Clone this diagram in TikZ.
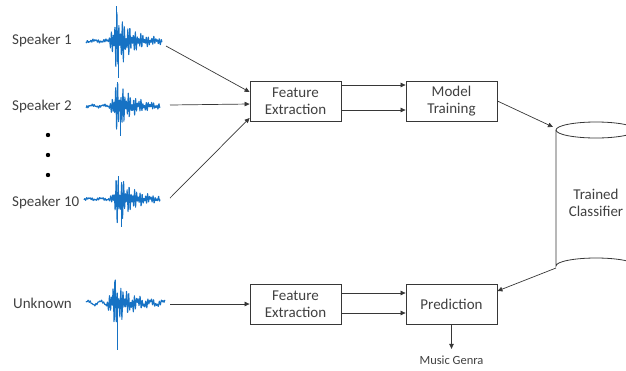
\documentclass[tikz,border=0pt]{standalone}
\usepackage{fontspec}
\setmainfont{Carlito}
\usetikzlibrary{arrows.meta}
\definecolor{wavec}{RGB}{22,114,196}
\definecolor{txt}{RGB}{64,64,64}
\definecolor{ln}{RGB}{55,55,55}
\newcommand\drawwave[7]{% x0, y0, length, amplitude, peak pos, seed, wiggle
  \draw[wavec, line width=1pt, line join=round]
    plot[domain=0:240, samples=241, variable=\ii]
    ({#1+#3*(\ii/240)},{#2 + #7*sin(\ii*9.5+#6) + #4*(0.05+env(\ii/240,#5))*(0.6*sin(\ii*61.7+#6)+0.4*sin(\ii*43.1+2*#6))});
}
\begin{document}
\begin{tikzpicture}[x=1pt,y=-1pt,
  font=\fontsize{15}{16.5}\selectfont, text=txt,
  box/.style={draw=ln, line width=0.8pt, minimum width=91pt, minimum height=40pt, align=center, inner sep=0pt},
  arr/.style={draw=ln, line width=0.7pt, -{Triangle[length=5pt,width=4.5pt]}},
  lbl/.style={anchor=base west, inner sep=0pt},
  spike/.style={wavec, line width=1pt},
  declare function={env(\tv,\pv)=(\tv<\pv)*exp(max(-9,-((\tv-\pv)/0.06)^2)) + (\tv>=\pv)*exp(max(-9,-(\tv-\pv)/0.2));}]
\useasboundingbox (0,0) rectangle (626,370);
\clip (0,0) rectangle (626,370);

% labels
\node[lbl] (s1) at (12,44) {Speaker 1};
\node[lbl] (s2) at (12,110) {Speaker 2};
\node[lbl] (s10) at (12,206) {Speaker 10};
\node[lbl] (unk) at (13,308) {Unknown};
\foreach \yy in {135,155,175} \fill[black] (48,\yy) circle (2.2);

% waveforms
\drawwave{86}{41}{76}{30}{0.40}{17}{0.8}
\draw[spike] (116,41) -- (116,6);
\draw[spike] (118,41) -- (118,78);
\drawwave{86}{106}{74}{25}{0.42}{73}{0.9}
\draw[spike] (117,106) -- (117,82);
\draw[spike] (120,106) -- (120,136);
\drawwave{84}{199}{76}{25}{0.45}{121}{0.8}
\draw[spike] (121,199) -- (121,227);
\draw[spike] (118,199) -- (118,176);
\drawwave{86}{303}{79}{24}{0.36}{205}{2.0}
\draw[spike] (117,303) -- (117,350);
\draw[spike] (114,303) -- (114,282);

% wave end coordinates
\coordinate (w1) at (166,46);
\coordinate (w2) at (170,105);
\coordinate (w10) at (170,198);
\coordinate (wu) at (170,304);

% boxes
\node[box] (fe1) at (295.5,101) {Feature\\Extraction};
\node[box] (mt) at (451.5,101) {Model\\Training};
\node[box] (fe2) at (295.5,304) {Feature\\Extraction};
\node[box] (pr) at (451.5,304) {Prediction};

% cylinder
\draw[ln, line width=0.8pt] (596,130) ellipse [x radius=40, y radius=8];
\draw[ln, line width=0.8pt] (556,130) -- (556,266) arc[start angle=180, end angle=360, x radius=40, y radius=8] -- (636,130);
\node[align=center] (cls) at (596,203) {Trained\\Classifier};
\coordinate (clsTop) at (553,127);
\coordinate (clsBot) at (556,268);

% arrows
\draw[arr] (w1) -- ([yshift=9pt]fe1.west);
\draw[arr] (w2) -- ([yshift=-3pt]fe1.west);
\draw[arr] (w10) -- ([yshift=-17pt]fe1.west);
\draw[arr] ([yshift=16pt]fe1.east) -- ([yshift=16pt]mt.west);
\draw[arr] ([yshift=-9pt]fe1.east) -- ([yshift=-9pt]mt.west);
\draw[arr] (mt.east) -- (clsTop);
\draw[arr] (wu) -- (fe2.west);
\draw[arr] ([yshift=11pt]fe2.east) -- ([yshift=11pt]pr.west);
\draw[arr] ([yshift=-9pt]fe2.east) -- ([yshift=-9pt]pr.west);
\draw[arr] (clsBot) -- ([yshift=13pt]pr.east);
\node[font=\fontsize{12.5}{14}\selectfont, anchor=base] (mg) at (451.5,364) {Music Genra};
\draw[arr] (pr.south) -- ([yshift=3pt]mg.north);
\end{tikzpicture}
\end{document}
